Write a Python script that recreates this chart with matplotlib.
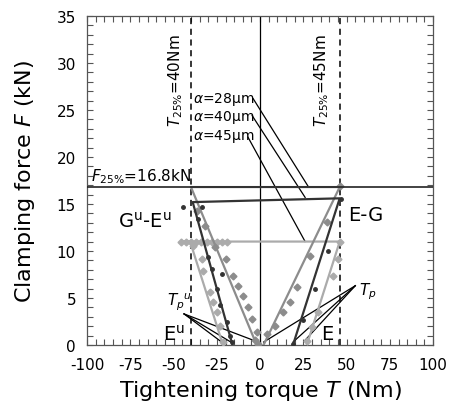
import numpy as np
import matplotlib.pyplot as plt

plt.rcParams['axes.unicode_minus'] = False
plt.rcParams['font.family'] = 'DejaVu Sans'

# fitted lines (torque Nm, force kN) for the three alpha values
a28_T = [2, 46, -40, -2]
a28_F = [0, 16.8, 16.8, 0]
a40_T = [19, 46, -39, -16]
a40_F = [0, 15.6, 15.2, 0]
a45_T = [27, 46, -45, -40.5, -21.5]
a45_F = [0, 11, 11, 11, 0]

# measured points
a28_mT = [-36.4, -31.8, -26, -20, -15.6, -12.7, -9.8, -6.9, -4.6, -1.7, -1,
          -3, 4, 8.7, 13.3, 17.3, 21.4, 28.9, 38.7, 46]
a28_mF = [14.3, 12.7, 10.4, 9.1, 7.3, 6.3, 5.2, 4.0, 2.8, 1.4, 0.1,
          0.5, 1.2, 2.0, 3.5, 4.6, 6.2, 9.5, 13.1, 16.9]
a40_mT = [-44.5, -33.5, -35.8, -30, -27.7, -22, -25, -23, -19, -17.3, -16,
          19, 25, 31.8, 39.3, 47]
a40_mF = [14.7, 14.7, 13.4, 9.4, 8.1, 7.5, 6.0, 4.2, 2.4, 1.0, 0.3,
          0.1, 2.6, 6.0, 10.0, 15.5]
a45_mT = [-46, -43, -40, -37, -34, -31, -28, -25, -22, -19,
          -39, -33.5, -32.9, -29, -27, -25, -23, -21.4,
          27, 30, 33.5, 42, 45, 46]
a45_mF = [11, 11, 11, 11, 11, 11, 11, 11, 11, 11,
          10.5, 9.1, 7.9, 5.6, 4.6, 3.5, 2.0, 0.3,
          0.4, 1.9, 3.5, 7.3, 9.1, 11]

T25_lo = -40
T25_hi = 46
F25 = 16.8

fig = plt.figure(figsize=(4.54, 4.06), dpi=100)
ax = fig.add_axes([0.192, 0.148, 0.762, 0.81])

c28, c40, c45 = '#8c8c8c', '#333333', '#ababab'

ax.plot(a45_T, a45_F, color=c45, lw=1.6, zorder=3)
ax.plot(a45_mT, a45_mF, 'D', color=c45, ms=3.5, mec=c45, zorder=3)
ax.plot(a28_T, a28_F, color=c28, lw=1.6, zorder=4)
ax.plot(a28_mT, a28_mF, 'D', color=c28, ms=3.5, mec=c28, zorder=4)
ax.plot(a40_T, a40_F, color=c40, lw=1.6, zorder=5)
ax.plot(a40_mT, a40_mF, 'o', color=c40, ms=2.5, zorder=5)

ax.axhline(F25, color='#222222', lw=1.2, zorder=6)
ax.axvline(0, color='black', lw=0.9, zorder=2)
ax.axvline(T25_lo, color='black', lw=1.1, ls=(0, (4, 3)), zorder=2)
ax.axvline(T25_hi, color='black', lw=1.1, ls=(0, (4, 3)), zorder=2)

# labels with leader lines
ax.text(-39, 26.2, r'$\alpha$=28μm', fontsize=10, va='center')
ax.text(-39, 24.3, r'$\alpha$=40μm', fontsize=10, va='center')
ax.text(-39, 22.3, r'$\alpha$=45μm', fontsize=10, va='center')
ax.plot([-4, 28], [26.2, 16.8], color='black', lw=0.9)
ax.plot([-4.6, 26], [24.4, 15.7], color='black', lw=0.9)
ax.plot([-7, 26], [22.1, 11.0], color='black', lw=0.9)

ax.plot([-44, -21.5], [3.3, 0.2], color='black', lw=0.9)
ax.plot([-44, -16], [3.3, 0.2], color='black', lw=0.9)
ax.plot([-44, -4], [3.3, 0.5], color='black', lw=0.9)
ax.plot([55, 2], [6.3, 0.3], color='black', lw=0.9)
ax.plot([55, 19], [6.3, 0.3], color='black', lw=0.9)
ax.plot([55, 26], [6.3, 0.5], color='black', lw=0.9)

ax.text(-49, 28.2, r'$T_{25\%}$=40Nm', rotation=90, fontsize=11,
        ha='center', va='center')
ax.text(35.5, 28.2, r'$T_{25\%}$=45Nm', rotation=90, fontsize=11,
        ha='center', va='center')
ax.text(-97.5, 17.0, r'$F_{25\%}$=16.8kN', fontsize=11, va='bottom')
ax.text(-82, 13.2, r'G$^\mathregular{u}$-E$^\mathregular{u}$', fontsize=14,
        va='center')
ax.text(51, 13.9, 'E-G', fontsize=14, va='center')
ax.text(-56, 1.2, r'E$^\mathregular{u}$', fontsize=14, va='center')
ax.text(35, 1.2, 'E', fontsize=14, va='center')
ax.text(-54, 4.6, r'$T_p$$^u$', fontsize=11, va='center')
ax.text(57, 5.8, r'$T_p$', fontsize=11, va='center')

ax.set_xlim(-100, 100)
ax.set_ylim(0, 35)
ax.set_xticks(np.arange(-100, 101, 25))
ax.set_xticks(np.arange(-100, 101, 5), minor=True)
ax.set_yticks(np.arange(0, 36, 5))
ax.set_yticks(np.arange(0, 36, 1), minor=True)
ax.tick_params(which='both', direction='in', top=True, right=True,
               length=4, width=0.8, color='#555555', labelsize=11)
ax.tick_params(axis='x', pad=9)
ax.tick_params(axis='y', pad=8)
for s in ax.spines.values():
    s.set_color('#555555')
    s.set_linewidth(0.9)

ax.set_xlabel(r'Tightening torque $T$ (Nm)', fontsize=16, labelpad=4)
ax.set_ylabel(r'Clamping force $F$ (kN)', fontsize=16, labelpad=14)

fig.savefig('out.png', dpi=100)
